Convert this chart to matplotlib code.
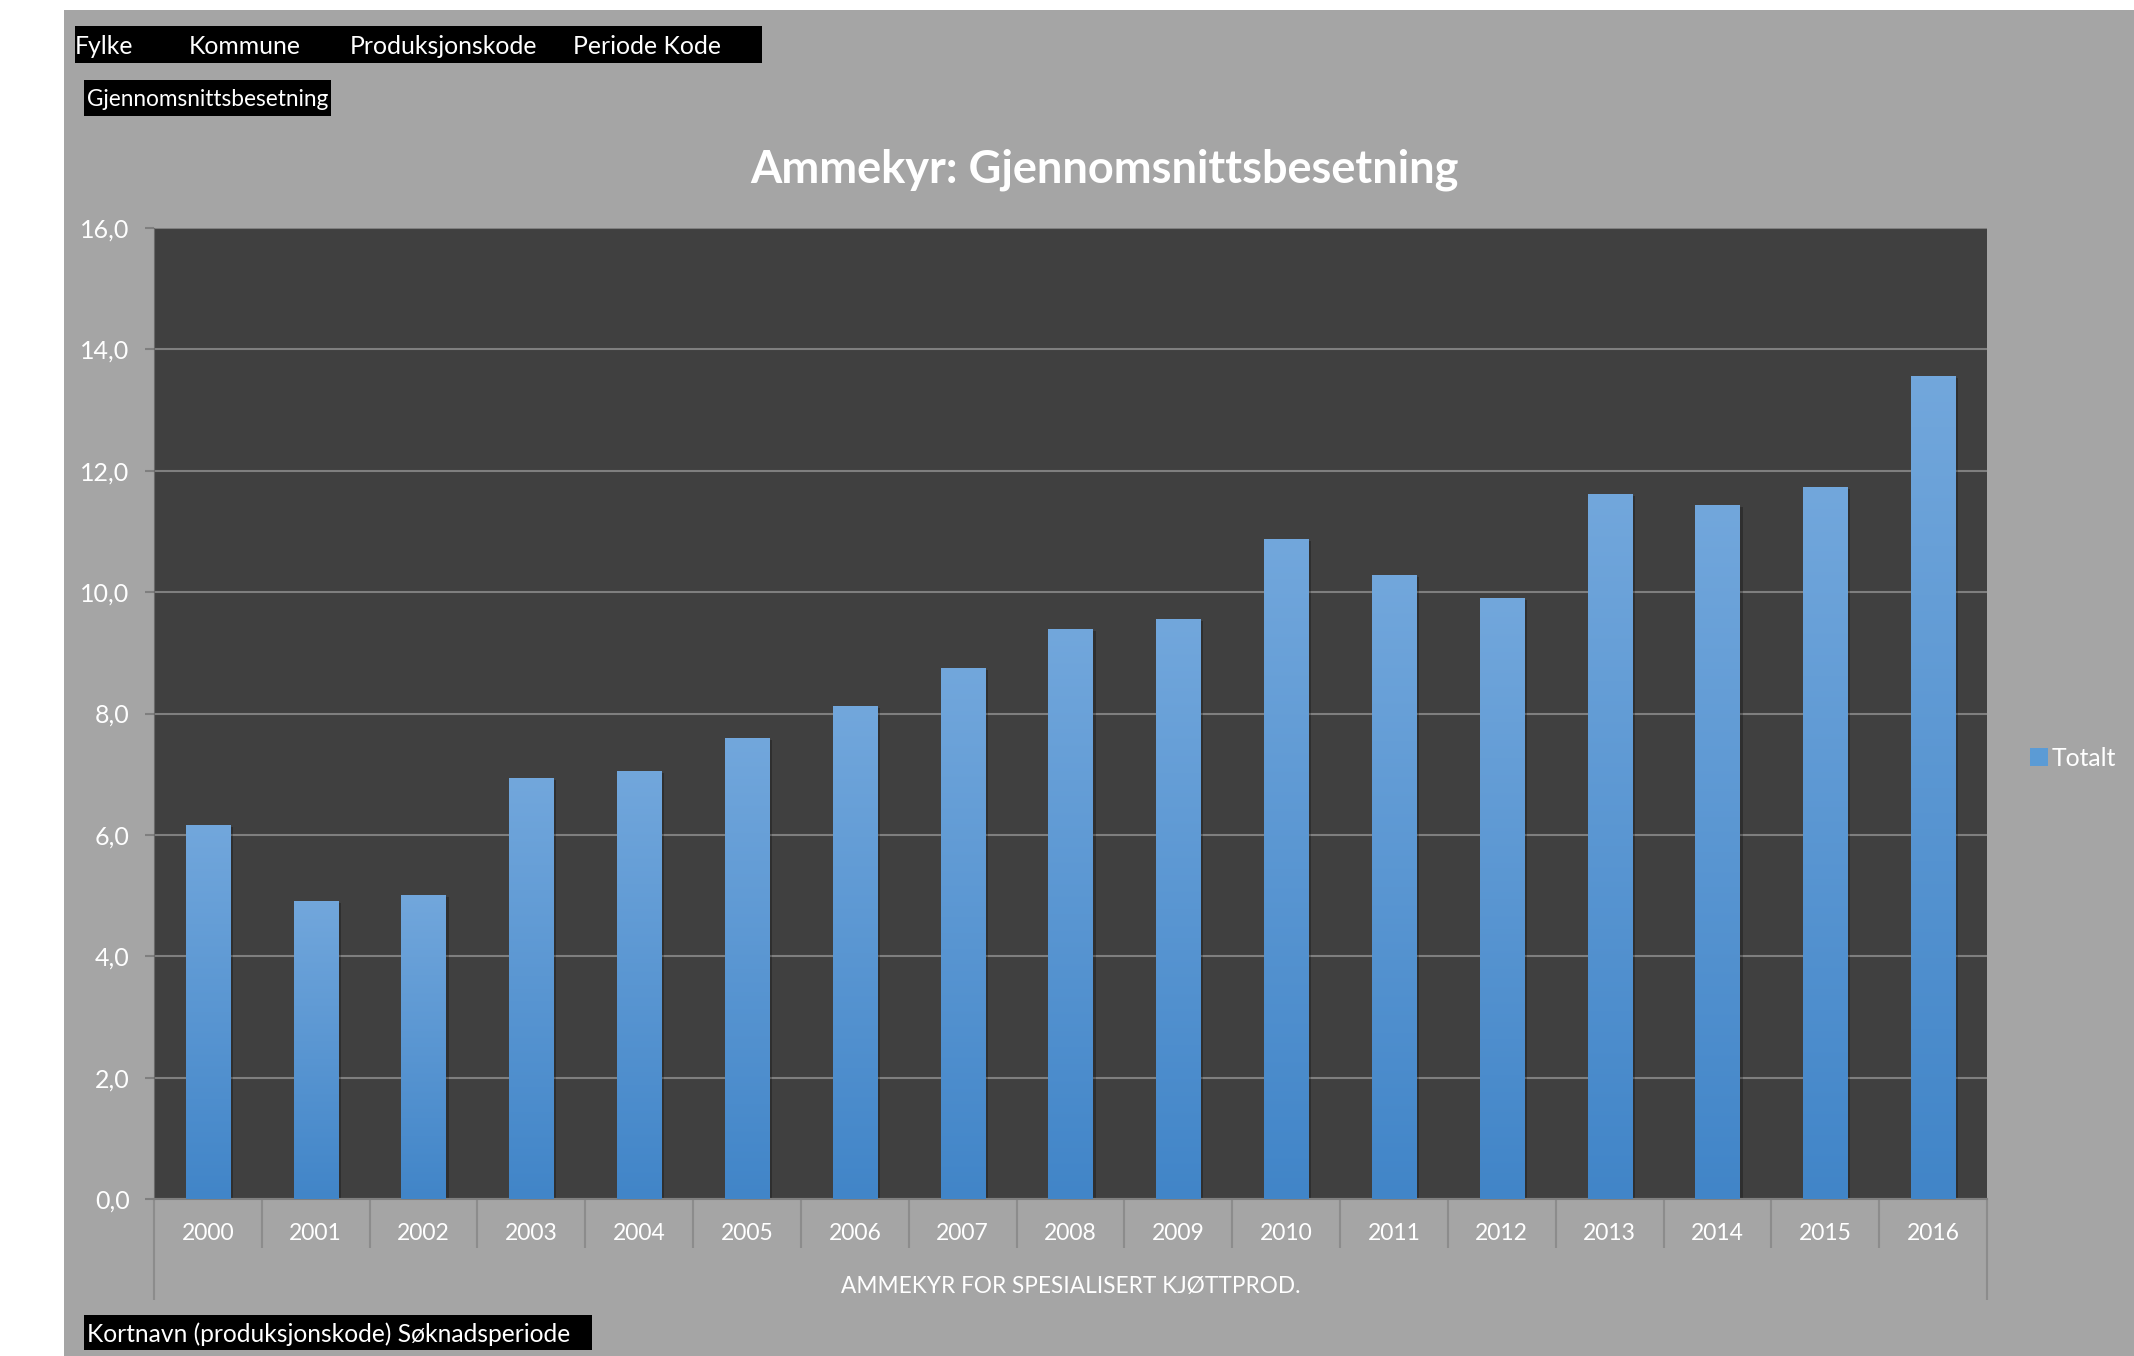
import matplotlib
matplotlib.use("Agg")
import matplotlib.pyplot as plt
import matplotlib.transforms as mtransforms
from matplotlib.patches import Rectangle, Patch
import numpy as np

years = ['2000', '2001', '2002', '2003', '2004', '2005', '2006', '2007', '2008',
         '2009', '2010', '2011', '2012', '2013', '2014', '2015', '2016']
totalt = [6.17, 4.91, 5.01, 6.93, 7.06, 7.59, 8.12, 8.75, 9.40,
          9.55, 10.87, 10.28, 9.90, 11.62, 11.43, 11.73, 13.56]
yticks = [0, 2, 4, 6, 8, 10, 12, 14, 16]
filters = ['Fylke', 'Kommune', 'Produksjonskode', 'Periode Kode']
filter_x = [75, 189, 350, 573]  # px, left edge of each filter label

plt.rcParams['font.family'] = ['Lato', 'DejaVu Sans']

W, H = 2134, 1356
bg = '#a5a5a5'
plotbg = '#404040'
sepcol = '#8c8c8c'


def fx(px):
    return px / W


def fy(py):
    return 1 - py / H


fig = plt.figure(figsize=(W / 100, H / 100), dpi=100)
fig.patch.set_facecolor('white')
fig.patches.append(Rectangle((fx(64), 0), 1 - fx(64), fy(10), transform=fig.transFigure,
                             facecolor=bg, edgecolor='none', zorder=-10))

# filter buttons
fig.patches.append(Rectangle((fx(75), fy(63)), fx(762) - fx(75), fy(26) - fy(63),
                             transform=fig.transFigure, facecolor='black', zorder=-5))
for lab, xp in zip(filters, filter_x):
    fig.text(fx(xp), fy(47), lab, color='white', fontsize=17.8, va='center', ha='left')

fig.patches.append(Rectangle((fx(84), fy(116)), fx(331) - fx(84), fy(80) - fy(116),
                             transform=fig.transFigure, facecolor='black', zorder=-5))
fig.text(fx(87), fy(99), 'Gjennomsnittsbesetning', color='white', fontsize=16.3, va='center')

fig.patches.append(Rectangle((fx(84), fy(1350)), fx(592) - fx(84), fy(1315) - fy(1350),
                             transform=fig.transFigure, facecolor='black', zorder=-5))
fig.text(fx(87), fy(1334), 'Kortnavn (produksjonskode) Søknadsperiode', color='white',
         fontsize=17.7, va='center')

fig.text(fx(1105), fy(170), 'Ammekyr: Gjennomsnittsbesetning', color='white',
         fontsize=32.5, fontweight='bold', ha='center', va='center')

# plot area
left, right, top, bottom = 154, 1987, 228, 1199
ax = fig.add_axes([fx(left), fy(bottom), fx(right) - fx(left), fy(top) - fy(bottom)])
ax.set_zorder(2)
ax.set_facecolor(plotbg)

x = np.arange(len(years))
bw = 0.41
shadow = mtransforms.offset_copy(ax.transData, fig=fig, x=3, y=-2, units='dots')
ax.bar(x, totalt, width=bw, color='black', alpha=0.25, transform=shadow, zorder=2)
bars = ax.bar(x, totalt, width=bw, color='#5b9bd5', zorder=3)

grad = np.linspace(0, 1, 256).reshape(-1, 1)
cmap = matplotlib.colors.LinearSegmentedColormap.from_list('g', ['#4185c8', '#72a7dc'])
for b in bars:
    bx, by = b.get_x(), b.get_y()
    im = ax.imshow(grad, cmap=cmap, origin='lower', aspect='auto', zorder=4,
                   extent=[bx, bx + b.get_width(), by, by + b.get_height()])
    im.set_clip_path(b)

ax.set_xlim(-0.5, len(years) - 0.5)
ax.set_ylim(0, 16)

ax.set_yticks(yticks)
ax.set_yticklabels([f'{v:.1f}'.replace('.', ',') for v in yticks])
ax.tick_params(axis='y', colors='#7f7f7f', labelcolor='white', labelsize=18,
               length=6.5, width=1.5, pad=11)
ax.yaxis.grid(True, color='#7f7f7f', linewidth=1.5, zorder=1)
ax.set_axisbelow(True)

ax.set_xticks(x)
ax.set_xticklabels(years)
ax.tick_params(axis='x', length=0, labelcolor='white', labelsize=16.5, pad=17)

for s in ['top', 'right']:
    ax.spines[s].set_visible(False)
ax.spines['left'].set_color('#6a6a6a')
ax.spines['bottom'].set_color('#7f7f7f')
ax.spines['bottom'].set_linewidth(1.5)

# category separators below axis
trans = mtransforms.blended_transform_factory(ax.transData, ax.transAxes)
inner = np.arange(0.5, len(years) - 1, 1.0)
ax.vlines(inner, -(1248 - bottom) / (bottom - top), 0, transform=trans, colors=sepcol,
          linewidth=1.5, clip_on=False)
ax.vlines([-0.5, len(years) - 0.5], -(1300 - bottom) / (bottom - top), 0, transform=trans,
          colors=sepcol, linewidth=1.5, clip_on=False)

ax.set_xlabel('AMMEKYR FOR SPESIALISERT KJØTTPROD.', color='white', fontsize=16.25)
ax.xaxis.set_label_coords(0.5, -(1286 - bottom) / (bottom - top))
ax.xaxis.label.set_va('center')

fig.legend(handles=[Patch(facecolor='#5b9bd5', label='Totalt')], loc='center left',
           bbox_to_anchor=(fx(2008), fy(758)), frameon=False, labelcolor='white',
           fontsize=17.8, handlelength=0.7, handleheight=0.7, handletextpad=0.15)

fig.savefig('out.png', dpi=100, facecolor=fig.get_facecolor())
